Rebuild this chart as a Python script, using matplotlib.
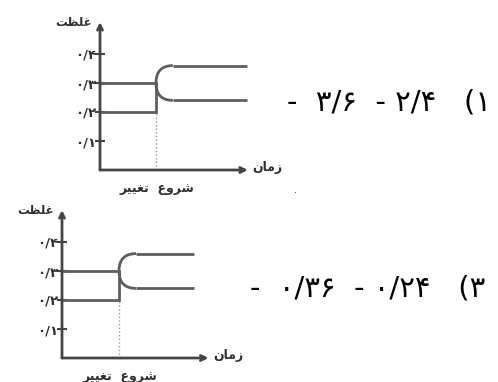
import matplotlib
matplotlib.use("Agg")
import matplotlib.pyplot as plt
from matplotlib.path import Path
from matplotlib.patches import PathPatch

plt.rcParams['font.family'] = ['DejaVu Sans']

# ---- data ----
t_change = 1.0
t_settle = 1.3
t_end = [2.62, 2.32]          # line ends for chart 1 and chart 2
t_arrow = [2.64, 2.57]
upper_before = 0.30
lower_before = 0.20
upper_after = 0.36
lower_after = 0.24
y_ticks = [0.1, 0.2, 0.3, 0.4]
y_tick_labels = ['۰/۱', '۰/۲', '۰/۳', '۰/۴']

# Persian labels (visual order, presentation forms)
ylabel_txt = '\uFE96\uFEC8\uFEE0\uFECF'                       # غلظت
xlabel_txt = '\uFEE5\uFE8E\uFEE3\uFEAF'                       # زمان
change_txt = '\uFEAE\uFEF4\uFEF4\uFED0\uFE97  \uFEC9\uFEED\uFEAE\uFEB7'  # شروع تغییر
option1 = '-  ۳/۶  - ۲/۴   (۱'
option3 = '-  ۰/۳۶  - ۰/۲۴   (۳'

W, H = 498, 382
fig = plt.figure(figsize=(W / 100, H / 100), dpi=100)

LINE_C = '#5e5e5e'
AX_C = '#454545'
TXT_C = '#303030'

# chart placement in pixels: (y-axis x, x-axis y, px per time unit, px per 0.1)
charts = [(100, 170, 56.0, 29.0), (62, 358, 57.0, 29.0)]

for i, (x0, y0, sx, sy) in enumerate(charts):
    xmax, ymax = 2.75, 0.53
    w = xmax * sx
    h = ymax * sy * 10
    ax = fig.add_axes([x0 / W, (H - y0) / H, w / W, h / H])
    ax.set_xlim(0, xmax)
    ax.set_ylim(0, ymax)
    ax.patch.set_alpha(0)
    for s in ax.spines.values():
        s.set_visible(False)
    ax.set_xticks([])
    ax.set_yticks(y_ticks)
    ax.set_yticklabels(y_tick_labels, fontsize=9.5, color=TXT_C, fontweight='bold')
    ax.tick_params(axis='y', direction='inout', length=7, width=1.5, color=AX_C, pad=-1)

    # axes arrows
    ax.annotate('', xy=(t_arrow[i], 0), xytext=(0, 0),
                arrowprops=dict(arrowstyle='->', lw=2, color=AX_C, mutation_scale=9,
                                shrinkA=0, shrinkB=0), annotation_clip=False)
    ax.annotate('', xy=(0, 0.51), xytext=(0, 0),
                arrowprops=dict(arrowstyle='->', lw=2, color=AX_C, mutation_scale=9,
                                shrinkA=0, shrinkB=0), annotation_clip=False)

    # before change
    ax.plot([0, t_change], [upper_before, upper_before], color=LINE_C, lw=2, solid_capstyle='butt')
    ax.plot([0, t_change], [lower_before, lower_before], color=LINE_C, lw=2, solid_capstyle='butt')
    ax.plot([t_change, t_change], [lower_before, upper_before], color=LINE_C, lw=2)
    # dotted marker of change start
    ax.plot([t_change, t_change], [0, lower_before], color='#999999', lw=1, ls=':')

    # transition curves
    for target in (upper_after, lower_after):
        p = Path([(t_change, upper_before), (t_change, target), (t_settle, target)],
                 [Path.MOVETO, Path.CURVE3, Path.CURVE3])
        ax.add_patch(PathPatch(p, fc='none', ec=LINE_C, lw=2))
        ax.plot([t_settle, t_end[i]], [target, target], color=LINE_C, lw=2, solid_capstyle='butt')

    # labels
    ax.text(-0.15, 0.51, ylabel_txt, ha='right', va='center', fontsize=8.5,
            color=TXT_C, fontweight='bold')
    ax.text(t_arrow[i] + 0.08, 0.008, xlabel_txt, ha='left', va='center', fontsize=9,
            color=TXT_C, fontweight='bold')
    ax.text(t_change + 0.02, -0.065, change_txt, ha='center', va='center', fontsize=9,
            color=TXT_C, fontweight='bold')

fig.text(287 / W, 1 - 103 / H, option1, ha='left', va='center', fontsize=21, color='black')
fig.text(250 / W, 1 - 289 / H, option3, ha='left', va='center', fontsize=21, color='black')
fig.text(295 / W, 1 - 190 / H, '.', ha='center', va='center', fontsize=7, color=TXT_C)

fig.savefig('out.png', dpi=100)
